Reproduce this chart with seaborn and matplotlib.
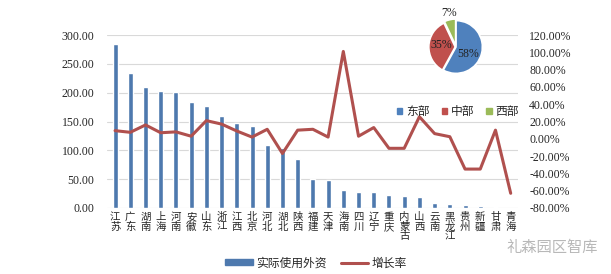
import numpy as np
import pandas as pd
import matplotlib
matplotlib.use("Agg")
import matplotlib.pyplot as plt
import seaborn as sns
from matplotlib.patches import Patch
from matplotlib.lines import Line2D

provinces = ["江苏", "广东", "湖南", "上海", "河南", "安徽", "山东", "浙江", "江西", "北京",
             "河北", "湖北", "陕西", "福建", "天津", "海南", "四川", "辽宁", "重庆", "内蒙古",
             "山西", "云南", "黑龙江", "贵州", "新疆", "甘肃", "青海"]
fdi = [284, 234, 210, 203, 201, 184, 177, 159, 147, 142,
       109, 104, 85, 51, 49, 32, 27, 27, 23, 20,
       19, 9, 7, 6, 3, 1.2, 0.5]
growth = [9.4, 7.5, 16, 7, 8, 3, 21, 17, 9, 2,
          11, -17, 10, 11, 2, 101, 3, 13, -11, -11,
          25.5, 6, 2.4, -35, -35, 10, -63]
region_names = ["东部", "中部", "西部"]
region_share = [58, 35, 7]

bar_color = "#4E79AE"
line_color = "#B0504E"
pie_colors = ["#4F81BD", "#C0504D", "#9BBB59"]

sns.set_theme(style="white")
plt.rcParams['font.family'] = ['Liberation Serif', 'Noto Sans CJK SC']
cjk = ['Noto Sans CJK SC', 'DejaVu Sans']

W, H = 611, 274
fig = plt.figure(figsize=(W / 100, H / 100), dpi=100)
ax = fig.add_axes([107 / W, 1 - 208 / H, 411 / W, 173 / H])

df = pd.DataFrame({"省份": provinces, "实际使用外资": fdi, "增长率": growth})
sns.barplot(data=df, x="省份", y="实际使用外资", color=bar_color, width=0.33,
            saturation=1, ax=ax, zorder=3)
ax.set_ylim(0, 300)
ax.set_yticks(np.arange(0, 301, 50))
ax.set_yticklabels([f"{v:.2f}" for v in np.arange(0, 301, 50)], fontsize=8.5)
ax.yaxis.grid(True, color="#d9d9d9", lw=0.8, zorder=0)
ax.set_axisbelow(True)
ax.set_xlim(-0.53, 26.48)
ax.set_xlabel("")
ax.set_ylabel("")
for s in ax.spines.values():
    s.set_visible(False)
ax.tick_params(axis='y', length=0, pad=9)
ax.tick_params(axis='x', length=0, pad=3)
ax.set_xticks(np.arange(len(provinces)))
ax.set_xticklabels(["\n".join(p) for p in provinces], family=cjk, fontsize=7.5,
                   linespacing=0.95, va='top')

ax2 = ax.twinx()
sns.lineplot(x=np.arange(len(provinces)), y=growth, ax=ax2, color=line_color, lw=2.2)
ax2.set_ylim(-80, 120)
ticks2 = np.arange(-80, 121, 20)
ax2.set_yticks(ticks2)
ax2.set_yticklabels([f"{v:.2f}%" for v in ticks2], fontsize=8.5)
ax2.tick_params(axis='y', length=0, pad=8)
ax2.set_ylabel("")
ax2.grid(False)
for s in ax2.spines.values():
    s.set_visible(False)
ax2.set_xlim(-0.53, 26.48)

# pie inset
cx, cy, r = 456, 47, 33
pax = fig.add_axes([(cx - r) / W, 1 - (cy + r) / H, 2 * r / W, 2 * r / H])
wedges, texts, autotexts = pax.pie(region_share, colors=pie_colors, startangle=90,
                                   counterclock=False, explode=[0, 0.03, 0.06],
                                   wedgeprops=dict(edgecolor='white', lw=1.2),
                                   autopct=lambda p: f"{p:.0f}%", pctdistance=0.5,
                                   textprops=dict(fontsize=8.5, color="#222222"))
autotexts[0].set_position((0.45, -0.25))
autotexts[1].set_position((-0.55, 0.08))
autotexts[2].set_position((-0.25, 1.28))
pax.set_aspect('equal')

fig.legend(handles=[Patch(color=c) for c in pie_colors], labels=region_names,
           loc='center', bbox_to_anchor=(458 / W, 1 - 112 / H), ncol=3, frameon=False,
           handlelength=0.45, handleheight=0.45, columnspacing=1.0, handletextpad=0.35,
           prop={'family': cjk, 'size': 8.5})

fig.legend(handles=[Patch(color=bar_color), Line2D([], [], color=line_color, lw=2.2)],
           labels=["实际使用外资", "增长率"], loc='center',
           bbox_to_anchor=(316 / W, 1 - 263 / H), ncol=2, frameon=False,
           handlelength=2.3, handleheight=0.45, columnspacing=1.2, handletextpad=0.3,
           prop={'family': cjk, 'size': 8.5})

fig.text(598 / W, 1 - 247 / H, "礼森园区智库", family=cjk, fontsize=11, color="#b8b8b8",
         ha='right', va='center')

fig.savefig("out.png", dpi=100)
